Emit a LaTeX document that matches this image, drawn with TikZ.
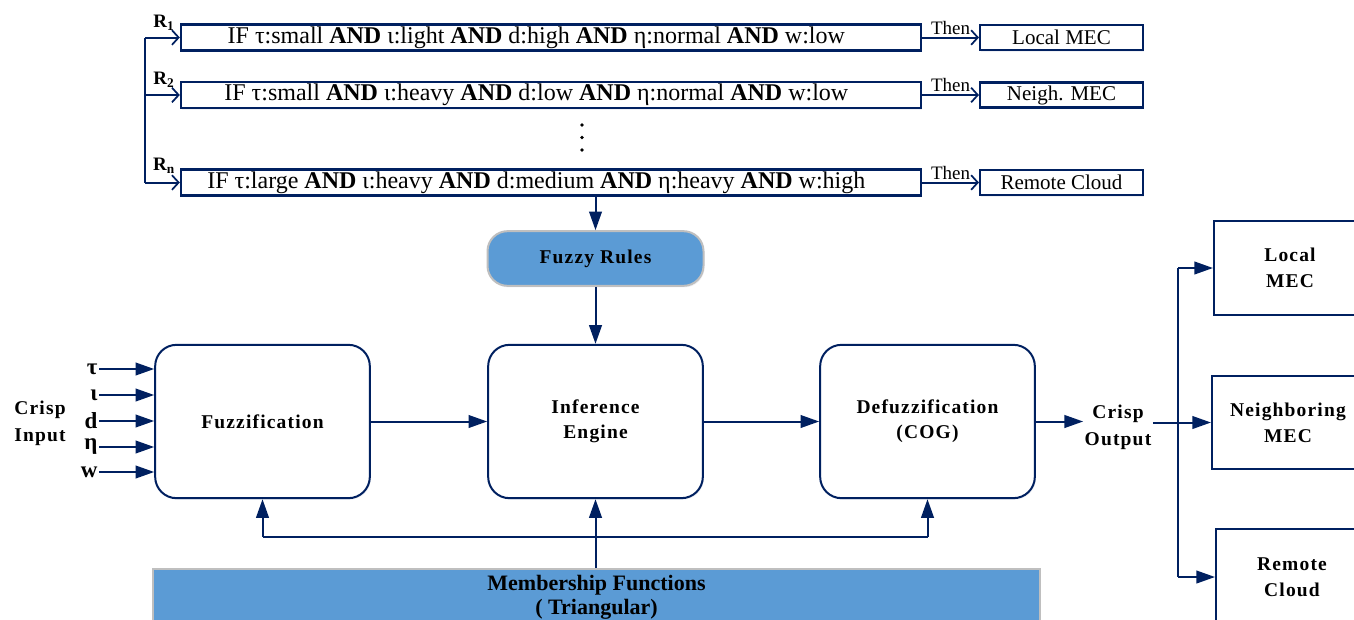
\documentclass[tikz,border=0pt]{standalone}
\usepackage{fontspec}
\setmainfont{Liberation Serif}
\newfontfamily\spaced[LetterSpace=6]{Liberation Serif}
\usetikzlibrary{arrows.meta,shadows}
\definecolor{navy}{RGB}{0,32,96}
\definecolor{fillblue}{RGB}{91,155,213}
\definecolor{rimgrey}{RGB}{191,191,191}
% font size and leading given in screen pixels (1px = 0.75pt)
\newcommand{\pxs}[2]{\fontsize{\the\dimexpr #1pt*3/4\relax}{\the\dimexpr #2pt*3/4\relax}\selectfont}
\newcommand{\AND}{\textbf{AND}}
\begin{document}
\begin{tikzpicture}[x=0.75pt,y=-0.75pt,
  line/.style={draw=navy, line width=1.5pt},
  arr/.style={line, -{Triangle[length=14pt,width=9.5pt]}},
  barb/.style={line, -{Straight Barb[length=5pt,width=11pt,line width=1.3pt]}},
  softshadow/.style={drop shadow={shadow xshift=0.8pt, shadow yshift=-1.2pt, opacity=0.12, fill=navy!50}},
  rulebox/.style={draw=navy, line width=1.8pt, fill=white, softshadow,
    minimum width=555pt, minimum height=19.5pt, inner sep=0pt, font=\pxs{24}{26},
    execute at end node={\hspace*{22pt}}},
  outbox/.style={draw=navy, line width=1.8pt, fill=white, softshadow,
    minimum width=122pt, minimum height=19pt, inner sep=0pt, font=\pxs{21}{22}},
  stagebox/.style={draw=navy, line width=1.5pt, fill=white, rounded corners=16pt, softshadow,
    minimum width=161pt, minimum height=115pt, align=center, font=\spaced\bfseries\pxs{19.5}{25}},
  bluebox/.style={draw=rimgrey, line width=1.5pt, fill=fillblue, softshadow, align=center},
  destbox/.style={draw=navy, line width=1.5pt, fill=white, minimum width=114pt,
    align=center, font=\spaced\bfseries\pxs{19.5}{26}},
  sym/.style={anchor=east, inner sep=1pt, font=\bfseries\pxs{23}{23}},
  rlabel/.style={inner sep=0pt, font=\bfseries\pxs{19}{19}},
  thenlabel/.style={above, inner sep=1.5pt, font=\pxs{19}{19}},
  tag/.style={align=center, font=\spaced\bfseries\pxs{19.5}{27}, inner sep=1pt}
]
\useasboundingbox (0,0) rectangle (1354,619);
\clip (0,0) rectangle (1354,619);

% ---- rule base ----
\node[rulebox] (r1) at (551,37.5) {IF τ:small \AND{} ι:light \AND{} d:high \AND{} η:normal \AND{} w:low};
\node[rulebox] (r2) at (551,95) {IF τ:small \AND{} ι:heavy \AND{} d:low \AND{} η:normal \AND{} w:low};
\node[rulebox] (rn) at (551,182.5) {IF τ:large \AND{} ι:heavy \AND{} d:medium \AND{} η:heavy \AND{} w:high};

\node[outbox] (o1) at (1061.5,37.5) {Local MEC};
\node[outbox] (o2) at (1061.5,95) {Neigh. MEC};
\node[outbox] (on) at (1061.5,182.5) {Remote Cloud};

\node[rlabel] (l1) at (164,23) {R\textsubscript{1}};
\node[rlabel] (l2) at (164,80) {R\textsubscript{2}};
\node[rlabel] (ln) at (164,166) {R\textsubscript{n}};

\coordinate (b1) at (145,37.5);
\coordinate (b2) at (145,95);
\coordinate (bn) at (145,182.5);
\draw[line] (b1) -- (bn);
\draw[barb] (b1) -- (r1.west);
\draw[barb] (b2) -- (r2.west);
\draw[barb] (bn) -- (rn.west);

\draw[barb] (r1.east) -- node[thenlabel] {Then} (o1.west);
\draw[barb] (r2.east) -- node[thenlabel] {Then} (o2.west);
\draw[barb] (rn.east) -- node[thenlabel] {Then} (on.west);

% vertical ellipsis between the rules
\foreach \yy in {125,137.5,150} \fill (582,\yy) circle (1.4pt);

% ---- inference chain ----
\node[bluebox, rounded corners=15pt, minimum width=162pt, minimum height=41pt,
      font=\spaced\bfseries\pxs{19.5}{20}] (fr) at (595.5,258.5) {Fuzzy Rules};

\node[stagebox] (fz) at (262.5,421.5) {Fuzzification};
\node[stagebox] (ie) at (595.5,421.5) {Inference\\Engine};
\node[stagebox] (df) at (927.5,421.5) {Defuzzification\\(COG)};

\draw[arr] (fr.north |- rn.south) -- (fr.north);
\draw[arr] (fr.south) -- (fr.south |- ie.north);
\draw[arr] (fz.east) -- (ie.west);
\draw[arr] (ie.east) -- (df.west);

% crisp inputs
\node[tag] (cin) at (40,423) {Crisp\\Input};
\node[sym] (s1) at (99,369) {τ};
\node[sym] (s2) at (99,395) {ι};
\node[sym] (s3) at (99,421) {d};
\node[sym] (s4) at (99,447) {η};
\node[sym] (s5) at (99,472) {w};
\foreach \s in {s1,s2,s3,s4,s5}
  \draw[arr] (\s.east) -- (\s.east -| fz.west);

% membership functions
\node[bluebox, minimum width=665pt, minimum height=42pt, font=\bfseries\pxs{22}{24}]
      (mf) at (596.5,597) {Membership Functions\\( Triangular)};
\coordinate (mfl) at (262.5,537);
\coordinate (mfr) at (927.5,537);
\draw[line] (mfl) -- (mfr);
\draw[arr] (mf.north -| ie.south) -- (ie.south);
\draw[arr] (mfl) -- (fz.south);
\draw[arr] (mfr) -- (df.south);

% crisp output and destinations
\node[tag] (cout) at (1118,427) {Crisp\\Output};
\node[destbox, minimum height=70pt] (lm) at (1290,268) {Local\\MEC};
\node[destbox, minimum height=70pt] (nm) at (1288,422.5) {Neighboring\\MEC};
\node[destbox, minimum height=72pt] (rc) at (1292,577) {Remote\\Cloud};

\draw[arr] (df.east) -- (df.east -| cout.west);
\coordinate (bt) at (1178,268);
\coordinate (bb) at (1178,577);
\draw[line] (bt) -- (bb);
\draw[arr] (cout.east |- nm.west) -- (nm.west);
\draw[arr] (bt) -- (lm.west);
\draw[arr] (bb) -- (rc.west);
\end{tikzpicture}
\end{document}
